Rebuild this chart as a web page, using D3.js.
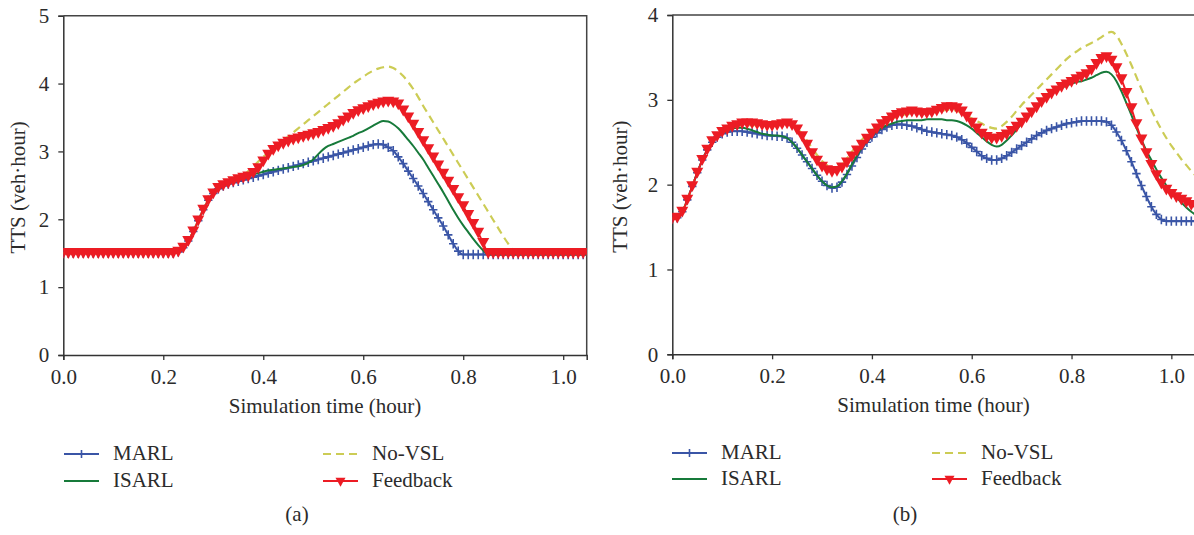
<!DOCTYPE html>
<html>
<head>
<meta charset="utf-8">
<script src="https://cdn.jsdelivr.net/npm/d3@7"></script>
<style>
  body { margin: 0; background: #fff; }
  svg text { font-family: "Liberation Serif", "DejaVu Serif", serif; fill: #2b2b2b; }
</style>
</head>
<body>
<script>
// time axis: one sample every 0.01 hour, 0.00 .. 1.05
var hours = d3.range(106).map(function(i) { return i / 100; });
var xTicks = [0, 0.2, 0.4, 0.6, 0.8, 1.0];
var seriesNames = ["MARL", "ISARL", "No-VSL", "Feedback"];

// ---- panel (a) TTS values ----
var marlA = [1.5,1.5,1.5,1.5,1.5,1.5,1.5,1.5,1.5,1.5,1.5,1.5,1.5,1.5,1.5,1.5,1.5,1.5,1.5,1.5,1.5,1.5,1.5,
  1.52,1.58,1.68,1.82,1.98,2.14,2.28,2.38,2.45,2.49,2.52,2.54,2.56,2.58,2.6,2.62,2.64,2.66,2.68,2.7,
  2.72,2.74,2.76,2.78,2.8,2.82,2.84,2.86,2.88,2.9,2.92,2.94,2.96,2.98,3.0,3.02,3.04,3.06,3.08,3.1,
  3.11,3.1,3.06,3.01,2.92,2.82,2.71,2.6,2.49,2.38,2.26,2.14,2.02,1.9,1.77,1.64,1.53,1.48,
  1.48,1.48,1.48,1.48,1.48,1.48,1.48,1.48,1.48,1.48,1.48,1.48,1.48,1.48,1.48,1.48,1.48,1.48,1.48,1.48,1.48,1.48,1.48,1.48,1.48];
var isarlA = [1.5,1.5,1.5,1.5,1.5,1.5,1.5,1.5,1.5,1.5,1.5,1.5,1.5,1.5,1.5,1.5,1.5,1.5,1.5,1.5,1.5,1.5,1.5,
  1.52,1.58,1.68,1.82,1.98,2.14,2.28,2.38,2.45,2.49,2.53,2.56,2.59,2.62,2.64,2.66,2.68,2.7,2.72,2.73,
  2.74,2.75,2.76,2.77,2.78,2.8,2.83,2.88,2.96,3.03,3.08,3.11,3.14,3.17,3.2,3.23,3.27,3.3,3.34,3.38,
  3.42,3.45,3.44,3.4,3.34,3.26,3.17,3.08,2.98,2.88,2.76,2.64,2.52,2.4,2.27,2.14,2.02,1.91,1.81,1.71,
  1.62,1.54,1.48,
  1.48,1.48,1.48,1.48,1.48,1.48,1.48,1.48,1.48,1.48,1.48,1.48,1.48,1.48,1.48,1.48,1.48,1.48,1.48,1.48];
var novslA = [1.5,1.5,1.5,1.5,1.5,1.5,1.5,1.5,1.5,1.5,1.5,1.5,1.5,1.5,1.5,1.5,1.5,1.5,1.5,1.5,1.5,1.5,1.5,
  1.52,1.58,1.68,1.82,1.98,2.14,2.28,2.38,2.46,2.5,2.53,2.56,2.59,
  2.64,2.71,2.78,2.85,2.92,2.98,3.04,3.1,3.16,3.22,3.28,3.34,3.4,3.46,3.52,3.58,3.64,3.7,3.76,3.82,
  3.88,3.94,4.0,4.05,4.1,4.15,4.19,4.22,4.24,4.25,4.23,4.18,4.11,4.02,3.92,3.8,3.67,3.55,3.43,3.31,
  3.19,3.07,2.95,2.83,2.71,2.59,2.47,2.35,2.23,2.11,1.99,1.87,1.75,1.64,1.55,1.5,
  1.5,1.5,1.5,1.5,1.5,1.5,1.5,1.5,1.5,1.5,1.5,1.5,1.5,1.5];
var feedA = [1.5,1.5,1.5,1.5,1.5,1.5,1.5,1.5,1.5,1.5,1.5,1.5,1.5,1.5,1.5,1.5,1.5,1.5,1.5,1.5,1.5,1.5,1.5,
  1.52,1.58,1.68,1.82,1.98,2.14,2.28,2.38,2.46,2.5,2.53,2.56,2.59,2.61,2.63,2.68,2.75,2.85,2.95,3.02,
  3.07,3.11,3.14,3.17,3.19,3.21,3.23,3.25,3.27,3.3,3.33,3.36,3.4,3.45,3.5,3.55,3.59,3.62,3.65,3.68,
  3.7,3.72,3.73,3.72,3.69,3.6,3.5,3.39,3.27,3.15,3.03,2.91,2.79,2.67,2.55,2.43,2.31,2.19,2.06,1.93,
  1.8,1.65,1.5,
  1.5,1.5,1.5,1.5,1.5,1.5,1.5,1.5,1.5,1.5,1.5,1.5,1.5,1.5,1.5,1.5,1.5,1.5,1.5,1.5];

// ---- panel (b) TTS values ----
var marlB = [1.6,1.61,1.68,1.82,1.98,2.14,2.29,2.41,2.5,2.56,2.6,2.62,2.63,2.63,2.63,2.62,2.61,2.6,2.59,2.58,
  2.58,2.57,2.57,2.55,2.5,2.43,2.35,2.27,2.19,2.11,2.04,1.99,1.96,1.97,2.03,2.12,2.22,2.32,2.42,2.5,
  2.56,2.61,2.65,2.68,2.7,2.71,2.71,2.7,2.69,2.67,2.65,2.63,2.62,2.61,2.6,2.59,2.58,2.56,2.53,2.49,
  2.44,2.39,2.34,2.31,2.29,2.29,2.31,2.34,2.38,2.42,2.46,2.5,2.54,2.58,2.61,2.64,2.66,2.68,2.7,2.72,
  2.73,2.74,2.75,2.75,2.75,2.75,2.75,2.74,2.7,2.62,2.52,2.4,2.27,2.13,1.99,1.86,1.74,1.65,1.59,1.57,
  1.57,1.57,1.57,1.57,1.57,1.57];
var isarlB = [1.6,1.61,1.68,1.82,1.98,2.14,2.29,2.41,2.5,2.57,2.61,2.64,2.66,2.67,2.67,2.66,2.64,2.62,2.6,2.59,
  2.58,2.58,2.57,2.55,2.5,2.43,2.35,2.27,2.19,2.11,2.04,1.99,1.97,1.98,2.04,2.13,2.24,2.34,2.44,2.52,
  2.58,2.63,2.67,2.7,2.72,2.74,2.75,2.76,2.76,2.76,2.76,2.77,2.77,2.77,2.77,2.76,2.76,2.75,2.73,2.7,
  2.66,2.61,2.56,2.51,2.47,2.45,2.47,2.52,2.58,2.65,2.72,2.79,2.86,2.92,2.98,3.03,3.07,3.11,3.14,3.17,
  3.19,3.21,3.22,3.24,3.26,3.29,3.32,3.33,3.3,3.22,3.1,2.96,2.82,2.67,2.53,2.4,2.29,2.18,2.08,1.99,
  1.92,1.85,1.79,1.73,1.68,1.64];
var novslB = [1.6,1.61,1.68,1.82,1.98,2.14,2.29,2.41,2.51,2.57,2.62,2.65,2.67,2.69,2.7,2.7,2.7,2.7,2.7,2.7,
  2.7,2.71,2.72,2.72,2.7,2.66,2.6,2.52,2.43,2.35,2.28,2.23,2.2,2.2,2.24,2.31,2.39,2.46,2.53,2.59,
  2.64,2.68,2.72,2.75,2.78,2.8,2.82,2.83,2.84,2.84,2.84,2.84,2.85,2.86,2.87,2.88,2.88,2.87,2.85,2.82,
  2.78,2.75,2.72,2.69,2.67,2.66,2.69,2.74,2.8,2.87,2.94,3.0,3.06,3.12,3.18,3.24,3.3,3.36,3.42,3.48,
  3.53,3.57,3.61,3.64,3.67,3.7,3.74,3.78,3.8,3.76,3.66,3.54,3.41,3.27,3.13,3.0,2.88,2.76,2.65,2.55,
  2.46,2.38,2.3,2.23,2.16,2.1];
var feedB = [1.6,1.61,1.68,1.82,1.98,2.14,2.29,2.41,2.51,2.57,2.62,2.65,2.68,2.7,2.72,2.72,2.72,2.71,2.7,2.69,
  2.69,2.7,2.71,2.72,2.7,2.65,2.57,2.47,2.37,2.28,2.21,2.17,2.15,2.16,2.2,2.26,2.33,2.4,2.47,2.54,
  2.6,2.66,2.71,2.75,2.79,2.82,2.84,2.85,2.86,2.85,2.84,2.84,2.85,2.87,2.89,2.91,2.91,2.9,2.86,2.8,
  2.73,2.66,2.6,2.56,2.54,2.54,2.56,2.59,2.63,2.68,2.73,2.79,2.85,2.91,2.97,3.02,3.07,3.11,3.15,3.18,
  3.21,3.24,3.27,3.3,3.35,3.42,3.48,3.5,3.46,3.37,3.24,3.08,2.9,2.71,2.53,2.37,2.23,2.11,2.01,1.94,
  1.89,1.85,1.82,1.79,1.76,1.74];

var colors = { "MARL": "#3a55a6", "ISARL": "#177a3a", "No-VSL": "#cccc55", "Feedback": "#ec1c24" };

var svg = d3.select("body").append("svg")
  .attr("width", 1194)
  .attr("height", 535);

// small marker shapes
function plusMark(sel, color, s) {
  sel.append("path")
    .attr("d", "M-" + s + ",0H" + s + "M0,-" + (s + 0.5) + "V" + (s + 0.5))
    .attr("stroke", color)
    .attr("stroke-width", 1.6)
    .attr("fill", "none");
}
function triMark(sel, color, s) {
  sel.append("path")
    .attr("d", "M-" + s + ",-" + (s * 0.85) + "L" + s + ",-" + (s * 0.85) + "L0," + (s * 0.95) + "Z")
    .attr("fill", color);
}

function panel(id, left, top, width, height, yMax, yTicks, series, titleX, legend)
{
  var g = svg.append("g")
    .attr("transform", "translate(" + left + "," + top + ")");

  var x = d3.scaleLinear().domain([0, 1.047]).range([0, width]);
  var y = d3.scaleLinear().domain([0, yMax]).range([height, 0]);

  g.append("clipPath").attr("id", "clip" + id)
    .append("rect")
    .attr("x", 0).attr("y", -6)
    .attr("width", width).attr("height", height + 6);

  // axes
  var xAxis = g.append("g")
    .attr("transform", "translate(0," + height + ")")
    .call(d3.axisBottom(x).tickValues(xTicks).tickFormat(d3.format(".1f")).tickSizeOuter(0).tickSize(5).tickPadding(9));
  var yAxis = g.append("g")
    .call(d3.axisLeft(y).tickValues(yTicks).tickFormat(d3.format("d")).tickSizeOuter(0).tickSize(5).tickPadding(9));
  [xAxis, yAxis].forEach(function(a) {
    a.select(".domain").attr("stroke", "#333").attr("stroke-width", 1.5);
    a.selectAll(".tick line").attr("stroke", "#333").attr("stroke-width", 1.3);
    a.selectAll(".tick text").attr("font-size", 21).attr("fill", "#2b2b2b");
  });

  // top and right frame
  g.append("path")
    .attr("d", "M0,0H" + width + "V" + height)
    .attr("fill", "none")
    .attr("stroke", "#444")
    .attr("stroke-width", 1.5);

  var plot = g.append("g").attr("clip-path", "url(#clip" + id + ")");

  var line = d3.line()
    .x(function(d, i) { return x(hours[i]); })
    .y(function(d) { return y(d); })
    .curve(d3.curveMonotoneX);

  seriesNames.forEach(function(name) {
    var vals = series[name];
    plot.append("path")
      .datum(vals)
      .attr("d", line)
      .attr("fill", "none")
      .attr("stroke", colors[name])
      .attr("stroke-width", name === "No-VSL" ? 2.2 : 2)
      .attr("stroke-dasharray", name === "No-VSL" ? "8,5" : null);

    if (name === "MARL" || name === "Feedback") {
      var marks = plot.selectAll(null)
        .data(vals)
        .enter().append("g")
        .attr("transform", function(d, i) { return "translate(" + x(hours[i]) + "," + y(d) + ")"; });
      marks.each(function() {
        if (name === "MARL") plusMark(d3.select(this), colors[name], 4.2);
        else triMark(d3.select(this), colors[name], 6);
      });
    }
  });

  // axis titles
  g.append("text")
    .attr("x", width / 2)
    .attr("y", height + 58)
    .attr("text-anchor", "middle")
    .attr("font-size", 21)
    .text("Simulation time (hour)");
  g.append("text")
    .attr("transform", "translate(" + titleX + "," + (height / 2 + 2) + ") rotate(-90)")
    .attr("text-anchor", "middle")
    .attr("font-size", 21)
    .text("TTS (veh\u00b7hour)");

  // legend, absolute page coordinates
  var leg = svg.append("g");
  var cols = [legend.col1, legend.col1, legend.col2, legend.col2];
  var rows = [legend.row1, legend.row2, legend.row1, legend.row2];
  seriesNames.forEach(function(name, i) {
    var item = leg.append("g").attr("transform", "translate(" + cols[i] + "," + rows[i] + ")");
    item.append("line")
      .attr("x1", 0).attr("x2", 35)
      .attr("stroke", colors[name])
      .attr("stroke-width", 2.2)
      .attr("stroke-dasharray", name === "No-VSL" ? "8,5" : null);
    if (name === "MARL") plusMark(item.append("g").attr("transform", "translate(17.5,0)"), colors[name], 3.5);
    if (name === "Feedback") triMark(item.append("g").attr("transform", "translate(17.5,1)"), colors[name], 5);
    item.append("text")
      .attr("x", 49)
      .attr("y", 6)
      .attr("font-size", 21)
      .text(name);
  });
  leg.append("text")
    .attr("x", legend.capX)
    .attr("y", 521)
    .attr("text-anchor", "middle")
    .attr("font-size", 21)
    .text(legend.cap);
}

panel("a", 63.3, 15.7, 523.4, 339.3, 5, [0, 1, 2, 3, 4, 5],
  { "MARL": marlA, "ISARL": isarlA, "No-VSL": novslA, "Feedback": feedA }, -38,
  { col1: 64, col2: 323, row1: 454, row2: 481, capX: 297, cap: "(a)" });

panel("b", 672.3, 15, 522.5, 339.3, 4, [0, 1, 2, 3, 4],
  { "MARL": marlB, "ISARL": isarlB, "No-VSL": novslB, "Feedback": feedB }, -45,
  { col1: 672, col2: 932, row1: 453, row2: 479, capX: 905, cap: "(b)" });
</script>
</body>
</html>
